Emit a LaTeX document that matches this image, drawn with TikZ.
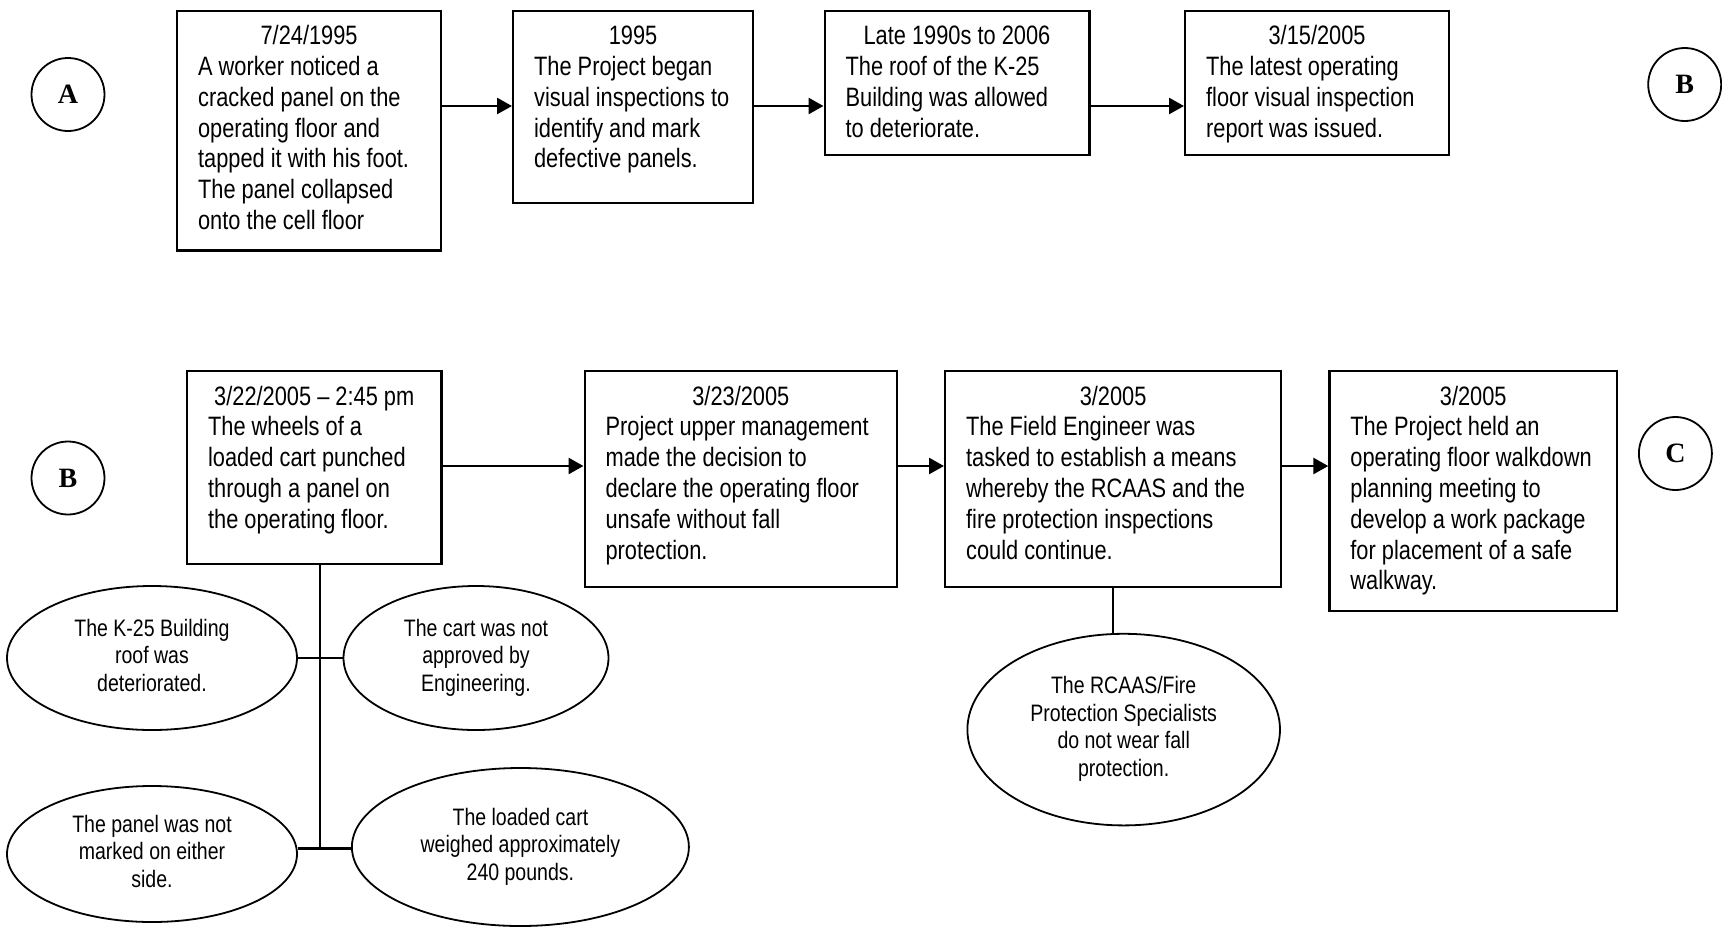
\documentclass[tikz,border=0pt]{standalone}
\usepackage{fontspec}
\setmainfont{Liberation Sans}[FakeStretch=0.82]
\newfontfamily\letterfont{Liberation Serif}
\usetikzlibrary{arrows.meta,shapes.geometric}

% event box text: width, height, centred date line, body lines
\newcommand\evtext[4]{%
  \parbox[t][#2][t]{#1}{\fontsize{26.6}{30.8}\selectfont
    \rule{0pt}{34pt}\makebox[\linewidth][c]{#3}\\#4}}

% causal factor text, raised by #1
\newcommand\factext[2]{%
  \raisebox{#1}{\begin{tabular}{@{}c@{}}#2\end{tabular}}}

\tikzset{
  evbox/.style={draw, line width=2.2pt, rectangle, inner xsep=21pt,
    inner ysep=0pt, anchor=north west},
  factoval/.style={draw, ellipse, line width=1.8pt, inner sep=0pt,
    font=\fontsize{23.8}{27.5}\selectfont},
  joint/.style={draw, circle, line width=1.8pt, inner sep=0pt,
    minimum size=73pt, font=\letterfont\bfseries\fontsize{28}{30}\selectfont},
  flow/.style={line width=2.6pt, -{Triangle[length=15pt,width=16pt]}},
  link/.style={line width=2.4pt},
}

\begin{document}
\begin{tikzpicture}[x=1pt, y=-1pt]
\useasboundingbox (0,0) rectangle (1722,927);

% ---- first row ----
\node[joint] (ca) at (68,94.5) {A};
\node[evbox] (b1) at (176,9.5) {\evtext{222pt}{239.8pt}{7/24/1995}{A worker noticed a\\cracked panel on the\\operating floor and\\tapped it with his foot.\\The panel collapsed\\onto the cell floor}};
\node[evbox] (b2) at (512,9.5) {\evtext{198pt}{192.5pt}{1995}{The Project began\\visual inspections to\\identify and mark\\defective panels.}};
\node[evbox] (b3) at (823.5,9.5) {\evtext{222.8pt}{144.5pt}{Late 1990s to 2006}{The roof of the K-25\\Building was allowed\\to deteriorate.}};
\node[evbox] (b4) at (1184,9.5) {\evtext{222pt}{144.5pt}{3/15/2005}{The latest operating\\floor visual inspection\\report was issued.}};
\node[joint] (cb1) at (1684.7,84.5) {B};

\coordinate (ytop) at (0,106);
\draw[flow] (b1.east |- ytop) -- (b2.west |- ytop);
\draw[flow] (b2.east |- ytop) -- (b3.west |- ytop);
\draw[flow] (b3.east |- ytop) -- (b4.west |- ytop);

% ---- second row ----
\node[joint] (cb2) at (68,478) {B};
\node[evbox] (b5) at (186,370) {\evtext{212.3pt}{192.5pt}{3/22/2005 -- 2:45 pm}{The wheels of a\\loaded cart punched\\through a panel on\\the operating floor.}};
\node[evbox] (b6) at (583.5,370) {\evtext{270.5pt}{215.5pt}{3/23/2005}{Project upper management\\made the decision to\\declare the operating floor\\unsafe without fall\\protection.}};
\node[evbox] (b7) at (944,370) {\evtext{294pt}{215.5pt}{3/2005}{The Field Engineer was\\tasked to establish a means\\whereby the RCAAS and the\\fire protection inspections\\could continue.}};
\node[evbox] (b8) at (1328.3,370) {\evtext{245.7pt}{239.5pt}{3/2005}{The Project held an\\operating floor walkdown\\planning meeting to\\develop a work package\\for placement of a safe\\walkway.}};
\node[joint] (cc) at (1675.4,453.5) {C};

\coordinate (ybot) at (0,466);
\draw[flow] (b5.east |- ybot) -- (b6.west |- ybot);
\draw[flow] (b6.east |- ybot) -- (b7.west |- ybot);
\draw[flow] (b7.east |- ybot) -- (b8.west |- ybot);

% ---- causal factors ----
\node[factoval, minimum width=290pt, minimum height=144pt] (e1) at (152,658) {\factext{-0.5pt}{The K-25 Building\\roof was\\deteriorated.}};
\node[factoval, minimum width=265pt, minimum height=144pt] (e2) at (476,658) {\factext{0.5pt}{The cart was not\\approved by\\Engineering.}};
\node[factoval, minimum width=290pt, minimum height=136pt] (e3) at (152,854) {\factext{7pt}{The panel was not\\marked on either\\side.}};
\node[factoval, minimum width=337pt, minimum height=158pt] (e4) at (520.4,847) {\factext{9pt}{The loaded cart\\weighed approximately\\240 pounds.}};
\node[factoval, minimum width=312.6pt, minimum height=191.6pt] (e5) at (1123.7,729.6) {\factext{4.5pt}{The RCAAS/Fire\\Protection Specialists\\do not wear fall\\protection.}};

\coordinate (t1) at (319.8,658);
\coordinate (t2) at (319.8,848.5);
\draw[link] (b5.south -| t1) -- (t2);
\draw[link] (e1.east) -- (e2.west);
\draw[link] (t2 -| e3.east) -- (t2 -| e4.west);
\draw[link] (b7.south) -- (b7.south |- e5.north);
\end{tikzpicture}
\end{document}
